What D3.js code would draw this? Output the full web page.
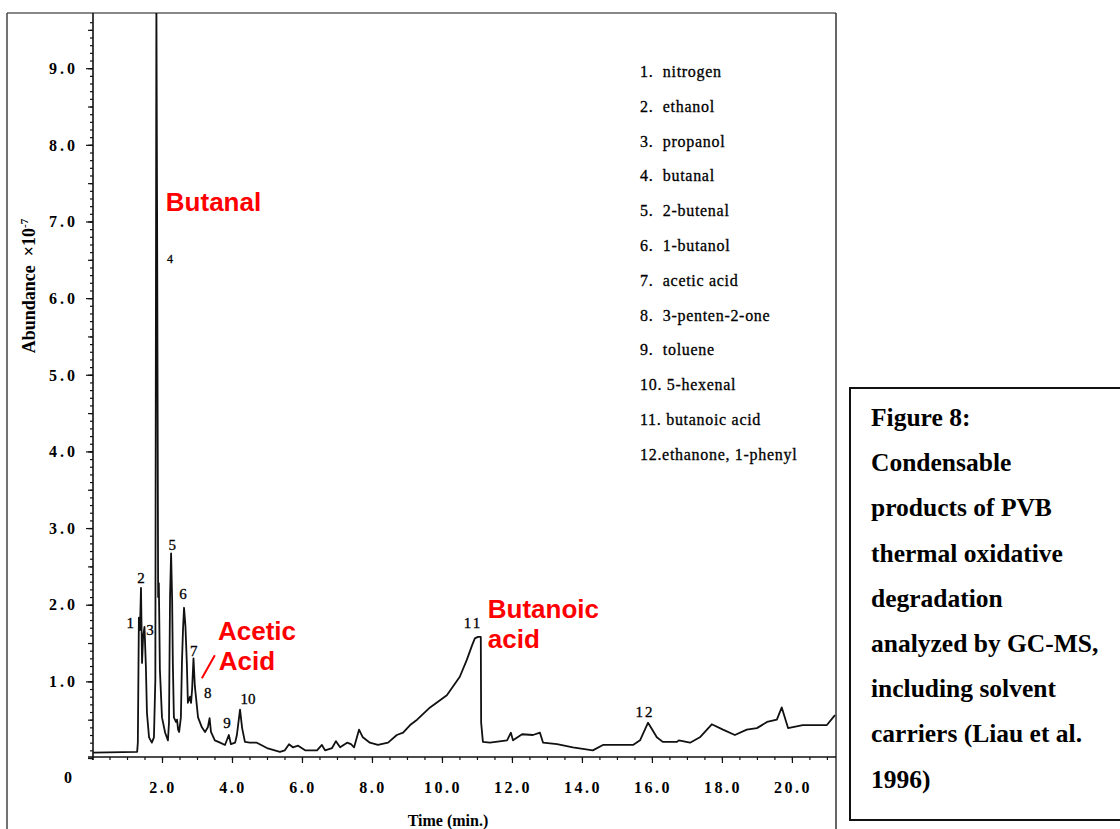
<!DOCTYPE html>
<html>
<head>
<meta charset="utf-8">
<script src="https://cdn.jsdelivr.net/npm/d3@7"></script>
<style>
  body { margin: 0; background: #fff; }
  text { font-family: "Liberation Serif", "Times New Roman", serif; }
</style>
</head>
<body id="viz">
<script>
// Chromatogram trace: time (min) and abundance (x10^7)
var retentionTime = [0.03, 1.29, 1.31, 1.34, 1.37, 1.40, 1.43, 1.46, 1.50, 1.54, 1.57, 1.63, 1.71, 1.77, 1.81,
  1.84, 1.86, 1.89, 1.91, 1.94, 2.00, 2.09, 2.17, 2.20, 2.23, 2.26, 2.29, 2.31, 2.34, 2.40, 2.43, 2.46, 2.49,
  2.54, 2.57, 2.60, 2.63, 2.67, 2.71, 2.74, 2.80, 2.83, 2.86, 2.90, 2.94, 2.97, 3.03, 3.14, 3.23, 3.31, 3.36,
  3.40, 3.51, 3.66, 3.80, 3.91, 3.97, 4.09, 4.14, 4.23, 4.29, 4.37, 4.51, 4.71, 5.00, 5.37, 5.51, 5.63, 5.74,
  5.89, 6.09, 6.43, 6.57, 6.66, 6.86, 6.97, 7.09, 7.29, 7.40, 7.49, 7.63, 7.74, 7.94, 8.17, 8.46, 8.71, 8.89,
  9.09, 9.29, 9.66, 10.14, 10.51, 10.71, 10.86, 10.94, 11.03, 11.11, 11.12, 11.17, 11.37, 11.86, 11.97, 12.03,
  12.29, 12.60, 12.80, 12.89, 13.29, 13.74, 14.31, 14.60, 15.00, 15.46, 15.66, 15.89, 16.14, 16.31, 16.71,
  16.77, 17.09, 17.37, 17.71, 18.03, 18.37, 18.71, 19.00, 19.29, 19.57, 19.71, 19.89, 20.31, 21.00, 21.23]
var abundance = [0.07, 0.08, 0.20, 1.83, 1.67, 2.22, 1.24, 1.58, 1.71, 1.19, 0.59, 0.27, 0.20, 0.27, 1.02,
  9.90, 7.10, 2.10, 2.28, 1.15, 0.53, 0.33, 0.23, 0.46, 2.10, 2.67, 2.06, 1.24, 0.53, 0.47, 0.50, 0.37, 0.34,
  0.53, 1.24, 1.67, 1.96, 1.72, 1.24, 0.72, 0.80, 0.72, 0.89, 1.30, 0.93, 0.80, 0.53, 0.40, 0.34, 0.40, 0.52,
  0.34, 0.23, 0.20, 0.17, 0.30, 0.18, 0.20, 0.30, 0.63, 0.39, 0.21, 0.20, 0.20, 0.13, 0.08, 0.10, 0.18, 0.14,
  0.16, 0.10, 0.10, 0.17, 0.10, 0.13, 0.22, 0.14, 0.20, 0.18, 0.14, 0.37, 0.27, 0.20, 0.17, 0.20, 0.30, 0.33,
  0.43, 0.50, 0.66, 0.82, 1.06, 1.28, 1.47, 1.56, 1.58, 1.58, 0.46, 0.21, 0.20, 0.23, 0.33, 0.23,
  0.31, 0.30, 0.33, 0.20, 0.18, 0.14, 0.10, 0.17, 0.17, 0.17, 0.23, 0.46, 0.27, 0.21, 0.21,
  0.23, 0.20, 0.27, 0.44, 0.37, 0.30, 0.37, 0.39, 0.47, 0.50, 0.66, 0.39, 0.43, 0.43, 0.56]

// Peak numbers and where they sit (time, abundance of the label)
var peakNumbers = ["1", "2", "3", "4", "5", "6", "7", "8", "9", "10", "11", "12"]
var peakLabelTime = [1.09, 1.40, 1.66, 2.23, 2.29, 2.60, 2.91, 3.31, 3.86, 4.46, 10.89, 15.80]
var peakLabelAbund = [1.77, 2.36, 1.68, 6.52, 2.79, 2.15, 1.40, 0.85, 0.46, 0.77, 1.77, 0.60]

// Legend of compounds
var compounds = ["1.  nitrogen", "2.  ethanol", "3.  propanol", "4.  butanal", "5.  2-butenal",
  "6.  1-butanol", "7.  acetic acid", "8.  3-penten-2-one", "9.  toluene", "10. 5-hexenal",
  "11. butanoic acid", "12.ethanone, 1-phenyl"]

// Axis ticks
var yTickValues = [1, 2, 3, 4, 5, 6, 7, 8, 9]
var xTickValues = [2, 4, 6, 8, 10, 12, 14, 16, 18, 20]

// Caption text
var captionLines = ["Figure 8:", "Condensable", "products of PVB", "thermal oxidative", "degradation",
  "analyzed by GC-MS,", "including solvent", "carriers (Liau et al.", "1996)"]

// Overall sizes
var svg_width = 1120
var svg_height = 829
var plot_left = 92
var plot_right = 836
var plot_top = 13
var plot_bottom = 758

var svg = d3.select("body#viz")
  .append("svg")
  .attr("width", svg_width)
  .attr("height", svg_height)

var x = d3.scaleLinear().domain([0, 21.26]).range([plot_left, plot_right])
var y = d3.scaleLinear().domain([0, 9.72]).range([plot_bottom, plot_top])

// Outer frame of the scanned figure
svg.append("line")
  .attr("x1", 7).attr("x2", plot_right).attr("y1", 13).attr("y2", 13)
  .style("stroke", "#888").style("stroke-width", 2)
svg.append("line")
  .attr("x1", 7).attr("x2", 7).attr("y1", 13).attr("y2", svg_height)
  .style("stroke", "#444").style("stroke-width", 1.5)
svg.append("line")
  .attr("x1", plot_right).attr("x2", plot_right).attr("y1", 13).attr("y2", svg_height)
  .style("stroke", "#333").style("stroke-width", 1.5)

//////////////// Axes ////////////////
function tickAxis(axis, values, size) {
  var g = svg.append("g")
  g.call(axis.tickValues(values).tickSize(size).tickFormat(""))
  g.select(".domain").remove()
  g.selectAll("line").style("stroke", "#111").style("stroke-width", 1.2)
  return g
}

// y axis: minor every 0.1, mid every 0.5, major every 1
tickAxis(d3.axisLeft(y), d3.range(0, 97).map(function(i) { return i / 10 }), 3)
  .attr("transform", "translate(" + (plot_left + 1) + ",0)")
tickAxis(d3.axisLeft(y), d3.range(0, 20).map(function(i) { return i / 2 }), 5)
  .attr("transform", "translate(" + (plot_left + 1) + ",0)")
tickAxis(d3.axisLeft(y), yTickValues, 7)
  .attr("transform", "translate(" + (plot_left + 1) + ",0)")

svg.append("line")
  .attr("x1", plot_left + 1).attr("x2", plot_left + 1)
  .attr("y1", plot_top).attr("y2", plot_bottom + 2)
  .style("stroke", "#111").style("stroke-width", 1.6)

svg.selectAll("ylab")
  .data(yTickValues)
  .enter().append("text")
    .attr("x", 78)
    .attr("y", function(d) { return y(d) })
    .attr("dy", "0.36em")
    .attr("text-anchor", "end")
    .text(function(d) { return d.toFixed(1) })
    .style("font-size", "16px")
    .style("font-weight", "bold")
    .style("letter-spacing", "3px")

// x axis: minor every 0.5, major every 2
tickAxis(d3.axisBottom(x), d3.range(0, 43).map(function(i) { return i / 2 }), 3)
  .attr("transform", "translate(0," + (plot_bottom - 1) + ")")
tickAxis(d3.axisBottom(x), xTickValues, 6)
  .attr("transform", "translate(0," + (plot_bottom - 1) + ")")

svg.append("line")
  .attr("x1", plot_left - 4).attr("x2", plot_right)
  .attr("y1", plot_bottom - 1).attr("y2", plot_bottom - 1)
  .style("stroke", "#111").style("stroke-width", 1.6)

svg.selectAll("xlab")
  .data(xTickValues)
  .enter().append("text")
    .attr("x", function(d) { return x(d) + 1 })
    .attr("y", 793)
    .attr("text-anchor", "middle")
    .text(function(d) { return d.toFixed(1) })
    .style("font-size", "16px")
    .style("font-weight", "bold")
    .style("letter-spacing", "2.5px")

// origin label
svg.append("text")
  .attr("x", x(0) - 24)
  .attr("y", 783)
  .attr("text-anchor", "middle")
  .text("0")
  .style("font-size", "16px")
  .style("font-weight", "bold")

// Axis titles
svg.append("text")
  .attr("x", 448)
  .attr("y", 826)
  .attr("text-anchor", "middle")
  .text("Time (min.)")
  .style("font-size", "16px")
  .style("font-weight", "bold")

var ytitle = svg.append("text")
  .attr("transform", "translate(35,286) rotate(-90)")
  .attr("text-anchor", "middle")
  .style("font-size", "18px")
  .style("font-weight", "bold")
  .style("white-space", "pre")
ytitle.append("tspan").text("Abundance  \u00d710")
ytitle.append("tspan").attr("dy", -7).style("font-size", "11px").text("-7")

//////////////// Trace ////////////////
svg.append("clipPath").attr("id", "plotclip")
  .append("rect")
  .attr("x", plot_left).attr("y", plot_top)
  .attr("width", plot_right - plot_left).attr("height", plot_bottom - plot_top)

var line = d3.line()
  .x(function(d, i) { return x(retentionTime[i]) })
  .y(function(d) { return y(d) })

svg.append("path")
  .datum(abundance)
  .attr("clip-path", "url(#plotclip)")
  .attr("d", line)
  .style("fill", "none")
  .style("stroke", "#111")
  .style("stroke-width", 1.8)
  .style("stroke-linejoin", "round")

// Peak numbers
svg.selectAll("peaklab")
  .data(peakNumbers)
  .enter().append("text")
    .attr("x", function(d, i) { return x(peakLabelTime[i]) })
    .attr("y", function(d, i) { return y(peakLabelAbund[i]) })
    .attr("dy", "0.36em")
    .attr("text-anchor", "middle")
    .text(function(d) { return d })
    .style("font-size", function(d) { return d == "4" ? "12px" : "15px" })
    .style("letter-spacing", function(d) { return d == "11" || d == "12" ? "2px" : "0px" })
    .style("stroke", "#000")
    .style("stroke-width", 0.3)

// Legend
svg.selectAll("legend")
  .data(compounds)
  .enter().append("text")
    .attr("x", 640)
    .attr("y", function(d, i) { return 77 + i * 34.8 })
    .text(function(d) { return d })
    .style("white-space", "pre")
    .style("font-size", "16px")
    .style("letter-spacing", "0.7px")
    .style("stroke", "#000")
    .style("stroke-width", 0.3)

//////////////// Red annotations ////////////////
function redText(t, time, ab) {
  svg.append("text")
    .attr("x", x(time))
    .attr("y", y(ab))
    .text(t)
    .style("font-family", "'Liberation Sans', Arial, sans-serif")
    .style("font-size", "26px")
    .style("font-weight", "bold")
    .style("fill", "#ff0000")
}
redText("Butanal", 2.11, 7.14)
redText("Acetic", 3.60, 1.54)
redText("Acid", 3.62, 1.15)
redText("Butanoic", 11.31, 1.83)
redText("acid", 11.31, 1.43)

svg.append("line")
  .attr("x1", x(3.14)).attr("y1", y(1.04))
  .attr("x2", x(3.51)).attr("y2", y(1.34))
  .style("stroke", "#ff0000")
  .style("stroke-width", 2)

//////////////// Caption box ////////////////
svg.append("rect")
  .attr("x", 850)
  .attr("y", 388)
  .attr("width", 300)
  .attr("height", 432)
  .style("fill", "none")
  .style("stroke", "#111")
  .style("stroke-width", 2)

svg.selectAll("caption")
  .data(captionLines)
  .enter().append("text")
    .attr("x", 871)
    .attr("y", function(d, i) { return 426 + i * 45.2 })
    .text(function(d) { return d })
    .style("font-size", "25.5px")
    .style("font-weight", "bold")
</script>
</body>
</html>
